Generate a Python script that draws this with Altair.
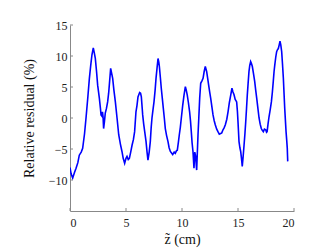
import altair as alt
import pandas as pd

x_vals = [0.0, 0.1, 0.24, 0.4, 0.54, 0.7, 0.83, 1.0, 1.13, 1.3, 1.43, 1.6, 1.73, 1.85, 1.96, 2.08, 2.17, 2.26,
          2.37, 2.47, 2.62, 2.72, 2.77, 2.85, 2.9, 2.95, 3.0, 3.08, 3.15, 3.25, 3.36, 3.45, 3.51, 3.63, 3.72, 3.81,
          3.92, 4.05, 4.2, 4.35, 4.5, 4.64, 4.75, 4.88, 5.0, 5.09, 5.2, 5.3, 5.42, 5.54, 5.66, 5.77, 5.89, 5.98,
          6.07, 6.15, 6.22, 6.3, 6.37, 6.45, 6.49, 6.58, 6.67, 6.79, 6.88, 6.96, 7.07, 7.17, 7.25, 7.32, 7.4, 7.5,
          7.6, 7.68, 7.78, 7.86, 7.93, 7.98, 8.07, 8.15, 8.24, 8.33, 8.42, 8.51, 8.62, 8.75, 8.85, 8.96, 9.05, 9.17,
          9.3, 9.4, 9.5, 9.58, 9.67, 9.76, 9.85, 9.94, 10.06, 10.18, 10.3, 10.38, 10.47, 10.57, 10.68, 10.76, 10.83,
          10.9, 10.98, 11.07, 11.14, 11.2, 11.25, 11.31, 11.37, 11.43, 11.5, 11.58, 11.67, 11.78, 11.88, 11.98, 12.08,
          12.2, 12.3, 12.38, 12.47, 12.56, 12.67, 12.77, 12.87, 12.97, 13.1, 13.21, 13.33, 13.45, 13.55, 13.66, 13.76,
          13.87, 14.0, 14.11, 14.23, 14.35, 14.46, 14.55, 14.64, 14.75, 14.88, 14.95, 15.0, 15.09, 15.17, 15.24, 15.31,
          15.38, 15.46, 15.54, 15.62, 15.69, 15.76, 15.83, 15.9, 15.98, 16.05, 16.13, 16.2, 16.28, 16.38, 16.49, 16.58,
          16.67, 16.78, 16.88, 16.98, 17.08, 17.17, 17.26, 17.36, 17.47, 17.55, 17.6, 17.68, 17.77, 17.88, 17.98,
          18.07, 18.15, 18.22, 18.28, 18.37, 18.45, 18.52, 18.6, 18.68, 18.75, 18.82, 18.9, 18.97, 19.05, 19.11,
          19.17, 19.23, 19.29, 19.35, 19.4, 19.42, 19.44]
y_vals = [-8.0, -9.0, -9.7, -8.8, -8.1, -7.2, -6.0, -5.5, -4.9, -2.5, 0.0, 3.5, 6.4, 8.5, 10.2, 11.3, 10.5, 9.6,
          7.5, 5.3, 3.2, 1.5, 0.5, 0.3, 1.0, 0.2, -1.7, -0.5, 0.8, 1.5, 2.6, 4.0, 5.3, 8.0, 7.2, 6.4,
          4.5, 2.6, 0.0, -2.7, -4.2, -5.4, -6.5, -7.3, -6.5, -6.2, -6.7, -6.5, -5.5, -4.4, -3.5, -2.2, 1.0, 2.0,
          3.4, 3.8, 4.1, 4.0, 3.4, 1.5, 0.5, -1.0, -2.2, -3.8, -5.5, -6.8, -5.5, -3.8, -1.5, 0.0, 1.2, 2.6,
          4.5, 6.4, 8.2, 9.6, 9.0, 8.3, 6.5, 4.8, 3.2, 1.6, 0.0, -1.7, -2.8, -3.8, -4.8, -5.4, -5.6, -5.9,
          -5.5, -5.7, -5.3, -5.2, -4.0, -2.7, -1.5, 0.0, 2.0, 3.7, 5.05, 4.5, 3.7, 2.5, 1.0, -0.5, -2.2,
          -4.0, -5.4, -8.1, -5.5, -6.0, -7.0, -8.4, -5.5, -2.7, 0.0, 3.2, 5.6, 6.0, 6.4, 7.5, 8.3,
          7.5, 6.3, 5.3, 4.2, 3.2, 1.8, 0.5, -0.4, -1.1, -1.8, -2.2, -2.6, -2.5, -2.4, -1.9, -1.6,
          -1.1, -0.2, 1.0, 2.5, 3.7, 4.8, 4.2, 3.8, 3.0, 2.6, 1.0, -0.6, -3.8, -4.8, -5.4, -6.5,
          -7.8, -6.2, -4.4, -2.5, -0.6, 1.5, 3.7, 5.5, 7.5, 8.5, 9.1, 8.8, 8.3, 7.2, 5.9, 4.5,
          3.2, 1.5, 0.0, -1.0, -1.7, -2.0, -2.2, -1.8, -1.9, -2.3, -2.2, -1.0, 0.2, 1.4, 2.6,
          4.2, 5.9, 7.5, 8.5, 9.8, 10.7, 11.0, 11.2, 11.8, 12.4, 11.8, 10.7, 8.8, 6.4, 4.0,
          1.6, -0.3, -2.2, -3.6, -4.9, -6.0, -7.0]

x_ticks = [0, 5, 10, 15, 20]
y_ticks = [-10, -5, 0, 5, 10, 15]

W, H = 224, 186
FONT = "Liberation Serif"

df = pd.DataFrame({"z": x_vals, "r": y_vals})
xt = pd.DataFrame({"z": x_ticks})
yt = pd.DataFrame({"r": y_ticks})

xscale = alt.Scale(domain=[0, 20], nice=False, zero=False)
yscale = alt.Scale(domain=[-15, 15], nice=False, zero=False)

x_axis = alt.Axis(values=x_ticks, labelPadding=6, titlePadding=4, labelOverlap=False)
y_axis = alt.Axis(values=y_ticks, labelPadding=3, titlePadding=12, labelOverlap=False)
X_TITLE = "z̃ (cm)"
Y_TITLE = "Relative residual (%)"

line = alt.Chart(df).mark_line(color="#0000ff", strokeWidth=1.6, clip=True).encode(
    x=alt.X("z:Q", scale=xscale, title=X_TITLE, axis=x_axis),
    y=alt.Y("r:Q", scale=yscale, title=Y_TITLE, axis=y_axis),
)

xtick_marks = alt.Chart(xt).mark_rule(color="#888888", strokeWidth=1).encode(
    x=alt.X("z:Q", scale=xscale, title=X_TITLE, axis=x_axis),
    y=alt.value(H),
    y2=alt.value(H - 3),
)
ytick_marks = alt.Chart(yt).mark_rule(color="#888888", strokeWidth=1).encode(
    y=alt.Y("r:Q", scale=yscale, title=Y_TITLE, axis=y_axis),
    x=alt.value(0),
    x2=alt.value(3),
)

chart = alt.layer(line, xtick_marks, ytick_marks).properties(
    width=W, height=H,
    autosize=alt.AutoSizeParams(type="none"),
    padding={"left": 62, "top": 17, "right": 30, "bottom": 38},
    background="white",
).configure_view(stroke=None).configure_axis(
    tickSize=0, grid=False, domainColor="#888888", labelFont=FONT, titleFont=FONT,
    labelFontSize=12, titleFontSize=14, titleFontWeight="normal",
    labelColor="#222222", titleColor="#111111",
)

chart.save("out.html", embed_options={"renderer": "svg", "actions": False})
